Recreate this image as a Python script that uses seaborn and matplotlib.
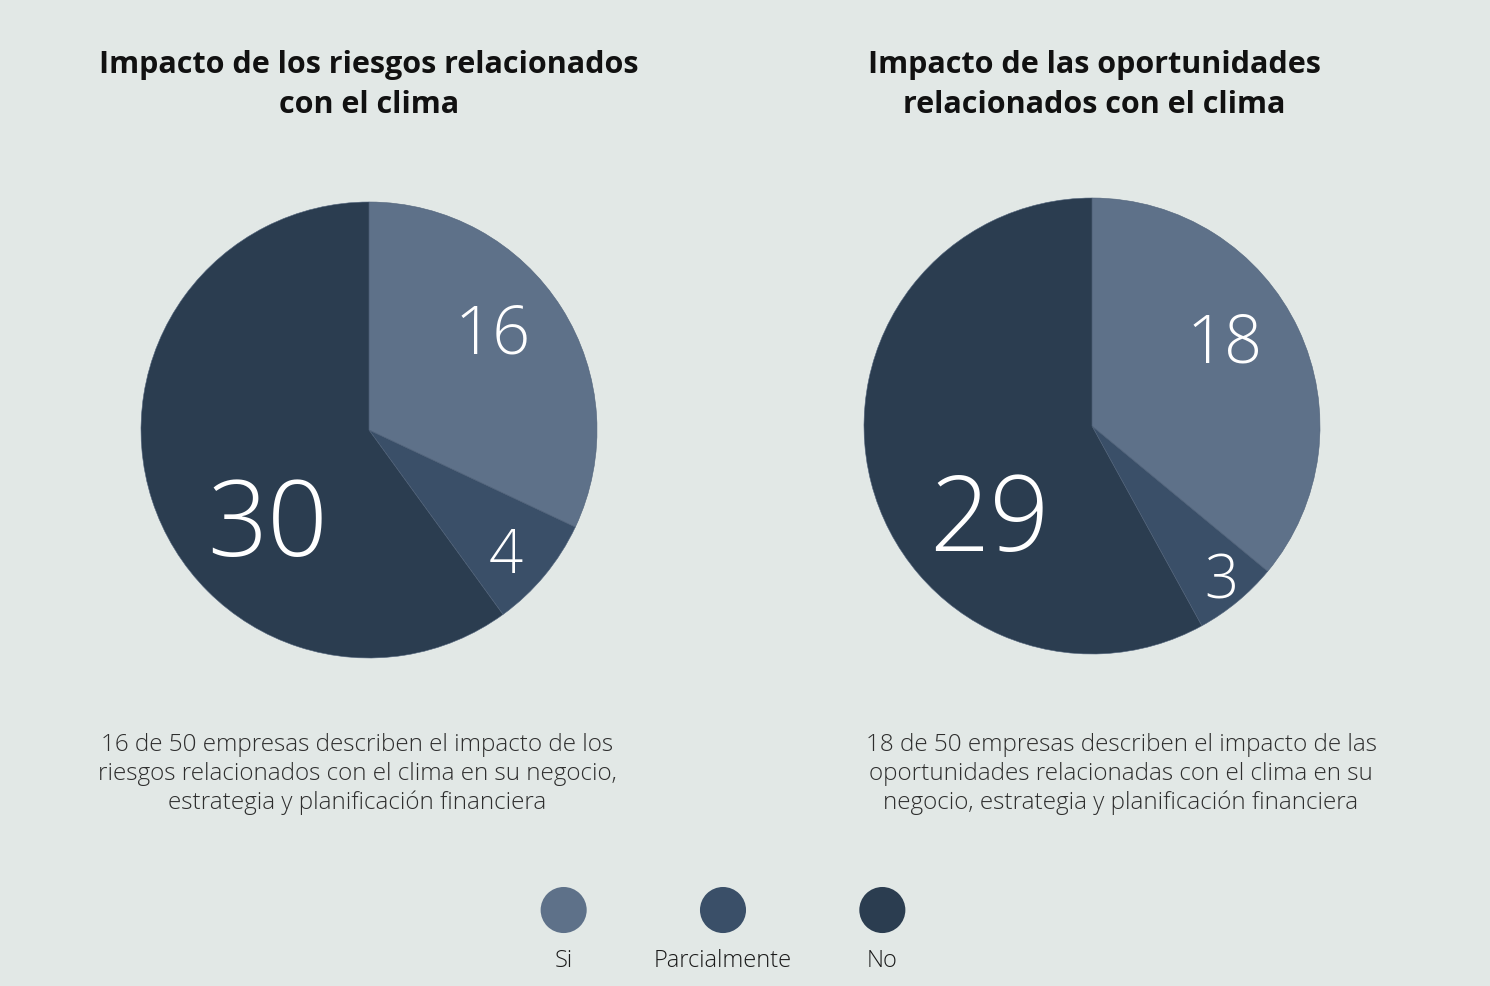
import numpy as np
import pandas as pd
import matplotlib
matplotlib.use("Agg")
import matplotlib.pyplot as plt
import seaborn as sns

# ==========================================
# DATA
# ==========================================
categories = ["Si", "Parcialmente", "No"]
riesgos = [16, 4, 30]
oportunidades = [18, 3, 29]

title_left = "Impacto de los riesgos relacionados\ncon el clima"
title_right = "Impacto de las oportunidades\nrelacionados con el clima"
desc_left = ("16 de 50 empresas describen el impacto de los\n"
             "riesgos relacionados con el clima en su negocio,\n"
             "estrategia y planificación financiera")
desc_right = ("18 de 50 empresas describen el impacto de las\n"
              "oportunidades relacionadas con el clima en su\n"
              "negocio, estrategia y planificación financiera")

# ==========================================
# STYLE
# ==========================================
BG = "#e2e8e6"
PALETTE = ["#5e7189", "#3a4f68", "#2b3d50"]
W, H = 1490, 986

sns.set_theme(style="white")
plt.rcParams["font.family"] = ["Open Sans", "DejaVu Sans"]

fig = plt.figure(figsize=(W / 100, H / 100), dpi=100, facecolor=BG)


def px_axes(x0, y0, w, h):
    """Axes given by its pixel box (top-left origin)."""
    return fig.add_axes([x0 / W, 1 - (y0 + h) / H, w / W, h / H])


def draw_pie(cx, cy, values, sizes, dists, nudges):
    r = 228
    ax = px_axes(cx - r, cy - r, 2 * r, 2 * r)
    wedges, _ = ax.pie(values, colors=PALETTE, startangle=90, counterclock=False,
                       radius=1.0, wedgeprops=dict(linewidth=0.4, edgecolor="#50627a"))
    ax.set_xlim(-1, 1)
    ax.set_ylim(-1, 1)
    ax.set_aspect("equal")
    ax.axis("off")
    # value labels sit on each wedge's mid angle (nudged a little)
    for w, v, d, n, fs in zip(wedges, values, dists, nudges, sizes):
        mid = np.deg2rad((w.theta1 + w.theta2) / 2 + n)
        ax.text(d * np.cos(mid), d * np.sin(mid), str(v), ha="center", va="center",
                color="white", fontsize=fs, fontweight="light")
    return ax


draw_pie(369, 430, riesgos, [48, 43, 76], [0.68, 0.82, 0.62], [5, -3.5, 26])
draw_pie(1092, 426, oportunidades, [48, 43, 76], [0.68, 0.89, 0.62], [6, 0, 29])

# titles
fig.text(369 / W, 1 - 85 / H, title_left, ha="center", va="center",
         fontsize=22, fontweight="bold", color="#111111", linespacing=1.42)
fig.text(1094 / W, 1 - 85 / H, title_right, ha="center", va="center",
         fontsize=22, fontweight="bold", color="#111111", linespacing=1.42)

# descriptions
fig.text(357 / W, 1 - 774 / H, desc_left, ha="center", va="center",
         fontsize=17.5, fontweight="light", color="#2e2e2e", linespacing=1.28)
fig.text(1121 / W, 1 - 774 / H, desc_right, ha="center", va="center",
         fontsize=17.5, fontweight="light", color="#2e2e2e", linespacing=1.28)

# legend: circles drawn with seaborn
leg = px_axes(484, 870, 478, 115)
leg_df = pd.DataFrame({"x": [0, 1, 2], "y": [0.652, 0.652, 0.652], "cat": categories})
sns.scatterplot(data=leg_df, x="x", y="y", hue="cat", palette=PALETTE, s=1100,
                linewidth=0, legend=False, ax=leg)
leg.set_xlim(-0.5, 2.5)
leg.set_ylim(0, 1)
leg.axis("off")
for i, c in enumerate(categories):
    leg.text(i, 0.21, c, ha="center", va="center", fontsize=17,
             fontweight="light", color="#1a1a1a")

fig.savefig("out.png", dpi=100, facecolor=BG)
